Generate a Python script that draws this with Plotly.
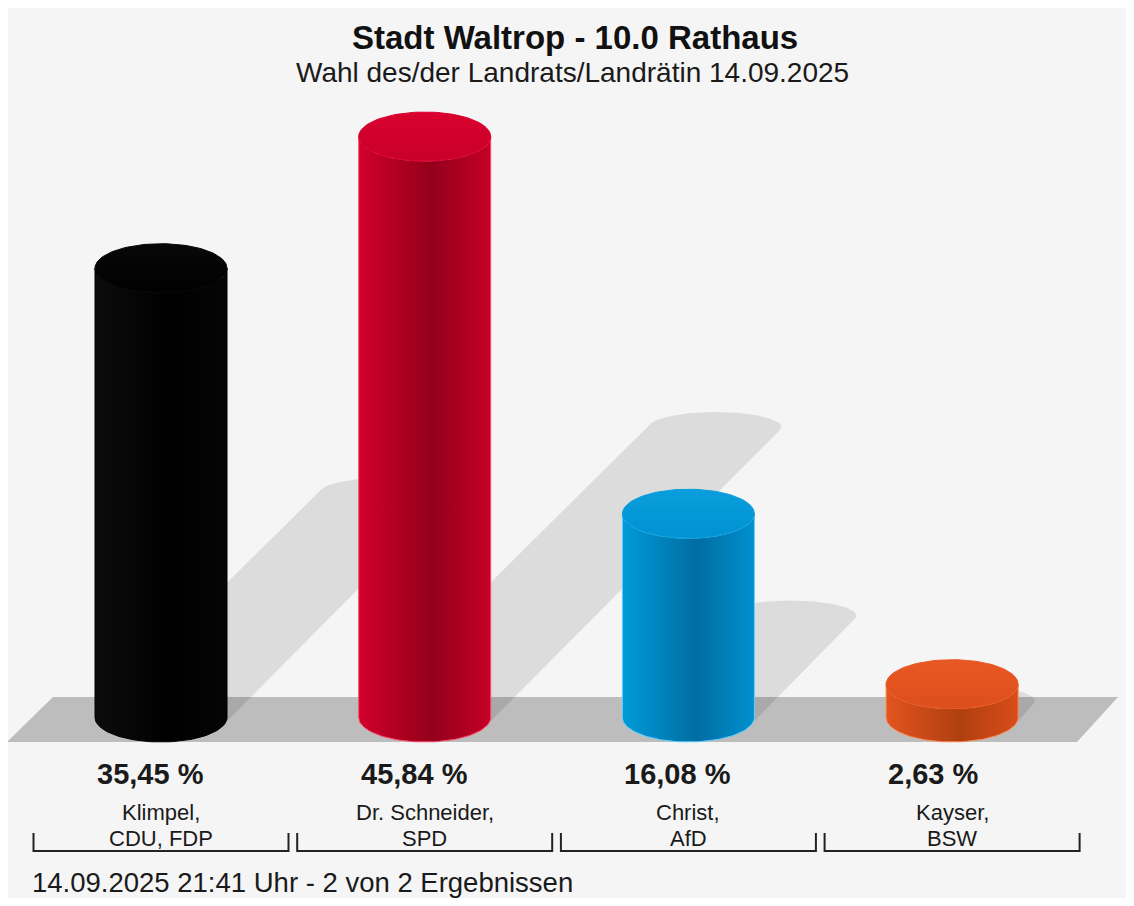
import numpy as np
import plotly.graph_objects as go

# ---------------- data ----------------
candidates = ["Klimpel,", "Dr. Schneider,", "Christ,", "Kayser,"]
parties = ["CDU, FDP", "SPD", "AfD", "BSW"]
values = [35.45, 45.84, 16.08, 2.63]
value_labels = ["35,45 %", "45,84 %", "16,08 %", "2,63 %"]
title = "Stadt Waltrop - 10.0 Rathaus"
subtitle = "Wahl des/der Landrats/Landrätin 14.09.2025"
footer = "14.09.2025 21:41 Uhr - 2 von 2 Ergebnissen"

# body gradient: left, dark stripe, right ; top colours
body_colors = [
    ("#0c0c0c", "#000000", "#050505"),
    ("#d2002b", "#93001a", "#c60027"),
    ("#009ad9", "#006ea2", "#0090cf"),
    ("#e3541f", "#b0400f", "#d94c1a"),
]
top_colors = [
    ("#080808", "#000000"),
    ("#d9002e", "#c80029"),
    ("#0a9edc", "#0092d2"),
    ("#e85824", "#dc4e1c"),
]
edge_colors = ["#000000", "#ff4a6a", "#5fd0ff", "#ff8a5a"]

# ---------------- geometry (screen pixel scale) ----------------
OFF = 8                     # page body margin
FIG_W, FIG_H = 1118, 890
PX_PER_CAT = 263.7          # horizontal spacing of categories
X0_PX = 161.0               # screen x centre of first category
PX_PER_PCT = 12.674         # vertical pixels per percent
BASE_PX = 717.5             # screen y of the value 0 (centre of base ellipse)
HALF_W_PX = 66.0            # cylinder radius (px)
ELL_B_PX = 24.5             # ellipse half-height (px)
SHADOW_B_PX = 15.0          # flattened ellipse of the shadow's end cap

x_range = [(OFF - X0_PX) / PX_PER_CAT, (OFF + FIG_W - X0_PX) / PX_PER_CAT]
y_range = [(BASE_PX - (OFF + FIG_H)) / PX_PER_PCT, (BASE_PX - OFF) / PX_PER_PCT]
a_u = HALF_W_PX / PX_PER_CAT
b_u = ELL_B_PX / PX_PER_PCT


def py2paper(py):
    return 1 - (py - OFF) / FIG_H


def px2paper(px):
    return (px - OFF) / FIG_W


def px2x(px):
    return (px - X0_PX) / PX_PER_CAT


def py2y(py):
    return (BASE_PX - py) / PX_PER_PCT


def convex_hull(points):
    pts = sorted(set(points))
    if len(pts) <= 2:
        return pts

    def cross(o, a, b):
        return (a[0] - o[0]) * (b[1] - o[1]) - (a[1] - o[1]) * (b[0] - o[0])

    lower, upper = [], []
    for p in pts:
        while len(lower) >= 2 and cross(lower[-2], lower[-1], p) <= 0:
            lower.pop()
        lower.append(p)
    for p in reversed(pts):
        while len(upper) >= 2 and cross(upper[-2], upper[-1], p) <= 0:
            upper.pop()
        upper.append(p)
    return lower[:-1] + upper[:-1]


fig = go.Figure()

# ---------------- floor ----------------
floor_px = [(53, 697), (1118, 697), (1077, 742), (7, 742)]
fig.add_shape(
    type="path",
    xref="x", yref="y",
    path="M " + " L ".join(f"{px2x(px):.4f},{py2y(py):.4f}" for px, py in floor_px) + " Z",
    fillcolor="#bdbdbd", line=dict(width=0), layer="below",
)

# ---------------- shadows ----------------
tt = np.linspace(0, 2 * np.pi, 90)
for i, v in enumerate(values):
    h_px = v * PX_PER_PCT
    dx_px = 0.5 * h_px
    dy_px = 0.5 * h_px
    cx = X0_PX + i * PX_PER_CAT
    pts = []
    for ox, oy, eb in [(0, 0, ELL_B_PX), (dx_px, -dy_px, SHADOW_B_PX)]:
        for t in tt:
            pts.append((round(cx + ox + HALF_W_PX * np.cos(t), 3),
                        round(BASE_PX + oy + eb * np.sin(t), 3)))
    hull = convex_hull(pts)
    hull.append(hull[0])
    fig.add_trace(go.Scatter(
        x=[px2x(p[0]) for p in hull],
        y=[py2y(p[1]) for p in hull],
        mode="lines", fill="toself", fillcolor="rgba(0,0,0,0.10)",
        line=dict(width=0), hoverinfo="skip", showlegend=False,
    ))

# ---------------- cylinders ----------------
tb = np.linspace(np.pi, 2 * np.pi, 60)
for i, v in enumerate(values):
    bx = list(i + a_u * np.cos(tb))                 # left -> right
    by_bottom = list(b_u * np.sin(tb))
    by_top = list(v + b_u * np.sin(tb))
    xs = bx + bx[::-1] + [bx[0]]
    ys = by_bottom + by_top[::-1] + [by_bottom[0]]
    c1, c2, c3 = body_colors[i]
    fig.add_trace(go.Scatter(
        x=xs, y=ys, mode="lines", fill="toself",
        fillgradient=dict(type="horizontal",
                          colorscale=[[0, c1], [0.56, c2], [1, c3]]),
        line=dict(width=1, color=edge_colors[i]),
        hoverinfo="skip", showlegend=False,
    ))
    te = np.linspace(0, 2 * np.pi, 120)
    t1, t2 = top_colors[i]
    fig.add_trace(go.Scatter(
        x=list(i + a_u * np.cos(te)), y=list(v + b_u * np.sin(te)),
        mode="lines", fill="toself",
        fillgradient=dict(type="vertical", colorscale=[[0, t2], [1, t1]]),
        line=dict(width=1, color=t1),
        hoverinfo="skip", showlegend=False,
    ))

# ---------------- labels ----------------
FONT = "Liberation Sans, Arial, Helvetica, sans-serif"
annotations = []
for i, v in enumerate(values):
    annotations.append(dict(
        x=i - a_u, xref="x", y=py2paper(774), yref="paper",
        text=f"<b>{value_labels[i]}</b>", showarrow=False,
        xanchor="left", yanchor="middle",
        font=dict(family=FONT, size=29, color="#1a1a1a"),
    ))
    annotations.append(dict(
        x=i, xref="x", y=py2paper(812), yref="paper",
        text=candidates[i], showarrow=False, xanchor="center", yanchor="middle",
        font=dict(family=FONT, size=22, color="#1a1a1a"),
    ))
    annotations.append(dict(
        x=i, xref="x", y=py2paper(838), yref="paper",
        text=parties[i], showarrow=False, xanchor="center", yanchor="middle",
        font=dict(family=FONT, size=22, color="#1a1a1a"),
    ))

annotations.append(dict(
    x=px2paper(575), xref="paper", y=py2paper(37), yref="paper",
    text=f"<b>{title}</b>",
    showarrow=False, xanchor="center", yanchor="middle",
    font=dict(family=FONT, size=33, color="#111111"),
))
annotations.append(dict(
    x=px2paper(572), xref="paper", y=py2paper(72), yref="paper", text=subtitle,
    showarrow=False, xanchor="center", yanchor="middle",
    font=dict(family=FONT, size=28, color="#1a1a1a"),
))
annotations.append(dict(
    x=px2paper(30), xref="paper", y=py2paper(882), yref="paper",
    text=footer, showarrow=False, xanchor="left", yanchor="middle",
    font=dict(family=FONT, size=27.5, color="#1a1a1a"),
))

# ---------------- brackets ----------------
BR_HALF = 127.5 / PX_PER_CAT
y_line = py2paper(851)
y_tick = py2paper(833)
for i in range(len(values)):
    fig.add_shape(
        type="path", xref="x", yref="paper",
        path=f"M {i - BR_HALF:.4f},{y_tick:.4f} L {i - BR_HALF:.4f},{y_line:.4f} "
             f"L {i + BR_HALF:.4f},{y_line:.4f} L {i + BR_HALF:.4f},{y_tick:.4f}",
        line=dict(color="#222222", width=2),
    )

fig.update_layout(
    width=FIG_W, height=FIG_H,
    margin=dict(l=0, r=0, t=0, b=0),
    paper_bgcolor="#f5f5f5", plot_bgcolor="#f5f5f5",
    xaxis=dict(range=x_range, visible=False, fixedrange=True),
    yaxis=dict(range=y_range, visible=False, fixedrange=True),
    annotations=annotations,
    showlegend=False,
)

fig.write_html("out.html")
